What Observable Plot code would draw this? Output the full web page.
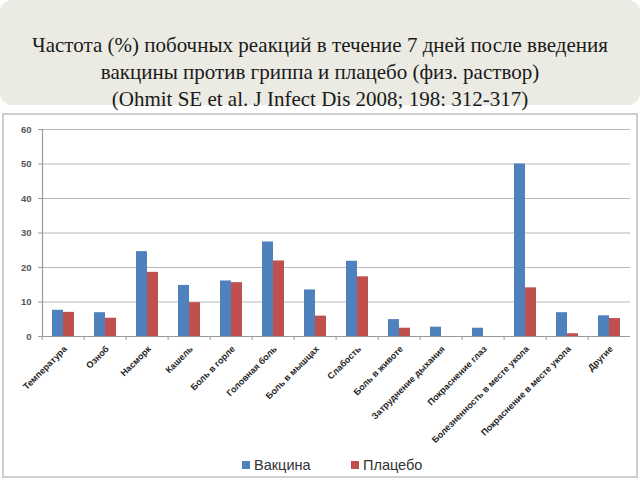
<!DOCTYPE html>
<html>
<head>
<meta charset="utf-8">
<script src="https://cdn.jsdelivr.net/npm/d3@7"></script>
<script src="https://cdn.jsdelivr.net/npm/@observablehq/plot@0.6"></script>
<style>
  html, body { margin: 0; padding: 0; background: #ffffff; width: 640px; height: 480px; overflow: hidden; }
  #title {
    position: absolute; left: 0; top: 0; width: 640px; height: 105px;
    background: #ecebe3; border-radius: 12px;
    font-family: "Liberation Serif", "Times New Roman", serif; font-size: 21px; line-height: 27px;
    color: #1a1a1a; text-align: center; box-sizing: border-box; padding-top: 32px;
  }
  #chart {
    position: absolute; left: 2px; top: 113px; width: 636px; height: 365px;
    box-sizing: border-box; border: 2px solid #cfcfcf; background: #fff;
  }
  #plot { position: absolute; left: 0; top: 0; }
  #legend {
    position: absolute; top: 342px; left: 0; width: 632px; height: 20px;
    font-family: "Liberation Sans", Arial, sans-serif; font-size: 14.5px; color: #333;
  }
  .item { position: absolute; top: 0; display: flex; align-items: center; }
  .sw { width: 8px; height: 8px; margin-right: 4px; }
</style>
</head>
<body>
<div id="title">Частота (%) побочных реакций в течение 7 дней после введения<br>вакцины против гриппа и плацебо (физ. раствор)<br>(Ohmit SE et al. J Infect Dis 2008; 198: 312-317)</div>
<div id="chart"><div id="plot"></div><div id="legend"></div></div>
<script>
const categories = ["Температура", "Озноб", "Насморк", "Кашель", "Боль в горле", "Головная боль", "Боль в мышцах", "Слабость", "Боль в животе", "Затруднение дыхания", "Покраснение глаз", "Болезненность в месте укола", "Покраснение в месте укола", "Другие"];
const seriesNames = ["Вакцина", "Плацебо"];
const vaccine = [7.6, 6.9, 24.6, 14.8, 16.1, 27.4, 13.5, 21.8, 4.9, 2.7, 2.4, 50.0, 6.9, 6.0];
const placebo = [7.0, 5.3, 18.6, 9.8, 15.6, 21.9, 5.9, 17.3, 2.4, null, null, 14.1, 0.8, 5.2];
const yTicks = [0, 10, 20, 30, 40, 50, 60];
const colors = ["#4f81bd", "#c0504d"];

const data = [];
categories.forEach((c, i) => {
  if (vaccine[i] != null) data.push({cat: c, series: seriesNames[0], value: vaccine[i]});
  if (placebo[i] != null) data.push({cat: c, series: seriesNames[1], value: placebo[i]});
});

const W = 632, H = 330, ML = 33, MR = 1, MT = 14, MB = 109;
const step = (W - ML - MR) / categories.length;

const chart = Plot.plot({
  width: W, height: H,
  marginLeft: ML, marginRight: MR, marginTop: MT, marginBottom: MB,
  style: {fontFamily: "Liberation Sans, Arial, sans-serif", fontSize: "9px", color: "#333", background: "transparent"},
  fx: {domain: categories, padding: 0, label: null},
  x: {domain: seriesNames, paddingInner: 0, paddingOuter: 0.78, axis: null},
  y: {domain: [0, 60], label: null, axis: null},
  color: {domain: seriesNames, range: colors},
  marks: [
    Plot.ruleY(yTicks, {stroke: "#b8b8b8", strokeWidth: 1.2}),
    Plot.barY(data, {fx: "cat", x: "series", y: "value", fill: "series"}),
    Plot.ruleY([0], {stroke: "#999", strokeWidth: 1.2}),
    Plot.axisY({ticks: yTicks, tickSize: 4, tickPadding: 7, stroke: "#999", fontWeight: "bold", fontSize: 9.5, fill: "#555", label: null}),
    Plot.frame({anchor: "left", facetAnchor: "left", stroke: "#999", strokeWidth: 1.2}),
    Plot.axisFx({anchor: "bottom", tickSize: 4, tickFormat: () => "", dx: -step / 2, stroke: "#999", label: null}),
    Plot.axisFx({anchor: "bottom", tickSize: 0, tickRotate: -45, textAnchor: "end", tickPadding: 11, dx: 2, fill: "#222", fontWeight: "bold", label: null})
  ]
});
document.getElementById("plot").appendChild(chart);

const legend = document.getElementById("legend");
const lx = [238, 347];
seriesNames.forEach((s, i) => {
  const it = document.createElement("div");
  it.className = "item";
  it.style.left = lx[i] + "px";
  const sw = document.createElement("div");
  sw.className = "sw";
  sw.style.background = colors[i];
  const t = document.createElement("span");
  t.textContent = s;
  it.appendChild(sw); it.appendChild(t);
  legend.appendChild(it);
});
</script>
</body>
</html>
